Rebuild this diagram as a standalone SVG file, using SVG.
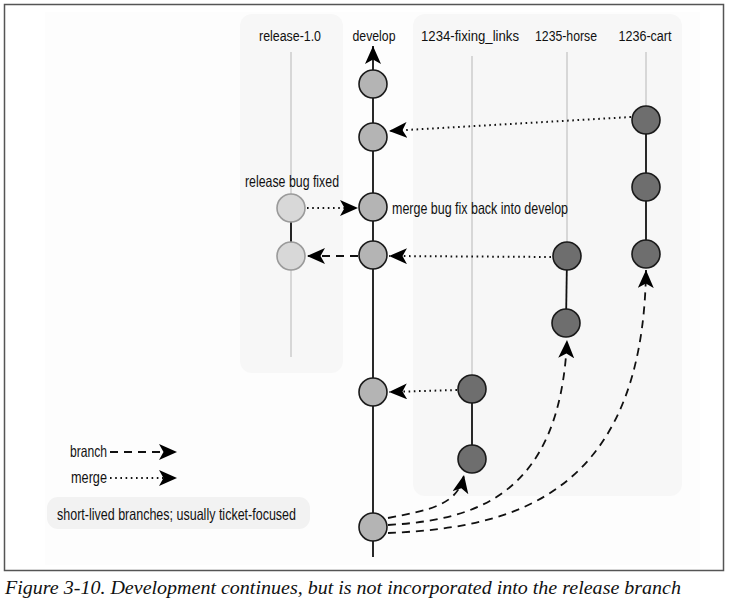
<svg xmlns="http://www.w3.org/2000/svg" width="731" height="601" viewBox="0 0 731 601">
<style>
  .lbl{font-family:"Liberation Sans",Arial,sans-serif;font-size:16.5px;fill:#111}
  .hd{font-size:15.5px}
  .panel{fill:#f7f7f7}
  .lane{stroke:#cccccc;stroke-width:1.5;fill:none}
  .seg{stroke:#111;stroke-width:1.8;fill:none}
  .dev{fill:#b4b4b4;stroke:#1a1a1a;stroke-width:1.6}
  .br{fill:#6e6e6e;stroke:#1a1a1a;stroke-width:1.6}
  .rel{fill:#d8d8d8;stroke:#9a9a9a;stroke-width:1.6}
  .dot{stroke:#111;stroke-width:2;stroke-dasharray:1.6 3.6;fill:none;marker-end:url(#ah)}
  .dash{stroke:#111;stroke-width:1.8;stroke-dasharray:8 6;fill:none;marker-end:url(#ah)}
</style>
<defs>
  <marker id="ah" markerUnits="userSpaceOnUse" markerWidth="20" markerHeight="18" refX="18" refY="8" orient="auto">
    <path d="M0,0 L18,8 L0,16 L4.5,8 Z" fill="#000"/>
  </marker>
</defs>
<rect x="0" y="0" width="731" height="601" fill="#fff"/>
<rect x="4.5" y="4.5" width="719" height="566" fill="#fff" stroke="#555" stroke-width="1.5"/>
<rect x="45" y="12" width="655" height="553" fill="#fdfdfd"/>
<g id="panel-release"><rect class="panel" x="240" y="14" width="103" height="359" rx="12"/></g>
<g id="panel-branches"><rect class="panel" x="413" y="14" width="269" height="482" rx="12"/></g>
<g id="lanes">
  <line class="lane" x1="291" y1="52" x2="291" y2="357"/>
  <line class="lane" x1="472" y1="56" x2="472" y2="378"/>
  <line class="lane" x1="567" y1="52" x2="567" y2="242"/>
  <line class="lane" x1="646" y1="52" x2="646" y2="106"/>
</g>
<g id="connectors">
  <line class="seg" x1="373" y1="557" x2="373" y2="46" marker-end="url(#ah)"/>
  <line class="seg" x1="291" y1="208" x2="291" y2="256"/>
  <line class="seg" x1="472" y1="389" x2="472" y2="459"/>
  <line class="seg" x1="567" y1="256" x2="566" y2="323"/>
  <line class="seg" x1="646" y1="120" x2="646" y2="254"/>
  <path class="dot" d="M631,117 L389,131"/>
  <path class="dot" d="M307,208 L358,208"/>
  <path class="dash" d="M358,256 L307,256"/>
  <path class="dot" d="M551,257 L389,256"/>
  <path class="dot" d="M457,390 L389,392"/>
  <path class="dash" d="M388,518 C430,510 458,505 464,475"/>
  <path class="dash" d="M388,525 C470,520 560,500 567,340"/>
  <path class="dash" d="M388,533 C500,528 643,505 646,270"/>
  <path class="dash" d="M110,452 L177,452"/>
  <path class="dot" d="M110,478 L177,478"/>
</g>
<g id="develop">
  <text class="lbl hd" x="374" y="41" text-anchor="middle" textLength="43" lengthAdjust="spacingAndGlyphs">develop</text>
  <circle class="dev" cx="373" cy="84" r="14"/>
  <circle class="dev" cx="373" cy="137" r="14"/>
  <circle class="dev" cx="373" cy="207" r="14"/>
  <circle class="dev" cx="373" cy="255" r="14"/>
  <circle class="dev" cx="373" cy="392" r="14"/>
  <circle class="dev" cx="373" cy="527" r="14"/>
  <text class="lbl" x="392" y="214" textLength="176" lengthAdjust="spacingAndGlyphs">merge bug fix back into develop</text>
</g>
<g id="release-1.0">
  <text class="lbl hd" x="290" y="41" text-anchor="middle" textLength="62" lengthAdjust="spacingAndGlyphs">release-1.0</text>
  <text class="lbl" x="292" y="187" text-anchor="middle" textLength="94" lengthAdjust="spacingAndGlyphs">release bug fixed</text>
  <circle class="rel" cx="291" cy="208" r="14"/>
  <circle class="rel" cx="291" cy="256" r="14"/>
</g>
<g id="b1234">
  <text class="lbl hd" x="470" y="41" text-anchor="middle" textLength="98" lengthAdjust="spacingAndGlyphs">1234-fixing_links</text>
  <circle class="br" cx="472" cy="389" r="14"/>
  <circle class="br" cx="472" cy="459" r="14"/>
</g>
<g id="b1235">
  <text class="lbl hd" x="566" y="41" text-anchor="middle" textLength="62" lengthAdjust="spacingAndGlyphs">1235-horse</text>
  <circle class="br" cx="567" cy="256" r="14"/>
  <circle class="br" cx="566" cy="323" r="14"/>
</g>
<g id="b1236">
  <text class="lbl hd" x="645" y="41" text-anchor="middle" textLength="53" lengthAdjust="spacingAndGlyphs">1236-cart</text>
  <circle class="br" cx="646" cy="120" r="14"/>
  <circle class="br" cx="646" cy="187" r="14"/>
  <circle class="br" cx="646" cy="254" r="14"/>
</g>
<g id="legend">
  <text class="lbl" x="107" y="457" text-anchor="end" textLength="37" lengthAdjust="spacingAndGlyphs">branch</text>
  <text class="lbl" x="107" y="483" text-anchor="end" textLength="36" lengthAdjust="spacingAndGlyphs">merge</text>
  <rect x="47" y="497" width="263" height="32" rx="11" fill="#f2f2f2"/>
  <text class="lbl" x="57" y="520" textLength="239" lengthAdjust="spacingAndGlyphs">short-lived branches; usually ticket-focused</text>
</g>
<text x="5" y="594" font-family="Liberation Serif,'Times New Roman',serif" font-style="italic" font-size="19" fill="#111" textLength="676" lengthAdjust="spacingAndGlyphs">Figure 3-10. Development continues, but is not incorporated into the release branch</text>
</svg>
